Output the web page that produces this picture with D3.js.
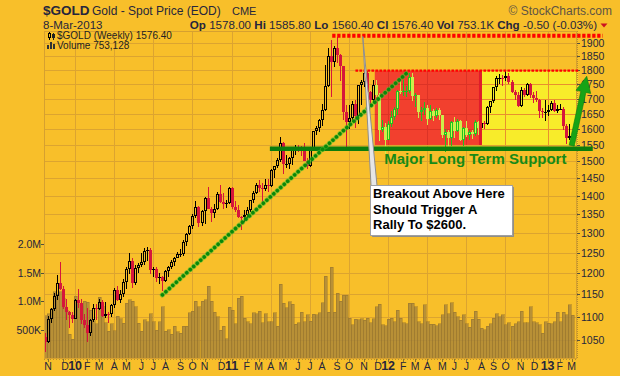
<!DOCTYPE html>
<html><head><meta charset="utf-8">
<script src="https://cdn.jsdelivr.net/npm/d3@7"></script>
<style>
body{margin:0;background:#f8bf2a;}
svg{display:block;font-family:"Liberation Sans",Arial,sans-serif;}
text{white-space:pre;}
</style>
</head><body>
<svg id="chart" width="620" height="376"></svg>
<script>
// ---------- DATA ----------
const firstWeek = "2009-10-30";   // weekly bars, Friday dated
const opens = [1057,1045,1095,1118,1146,1176,1162,1121,1110,1104,
1096,1138,1130,1092,1083,1064,1092,1119,1118,1132,
1102,1107,1106,1126,1161,1138,1150,1180,1209,1229,
1177,1212,1219,1228,1253,1257,1207,1210,1189,1190,
1181,1204,1215,1227,1237,1246,1247,1277,1297,1318,
1345,1369,1327,1358,1394,1365,1352,1363,1406,1384,
1378,1380,1421,1369,1360,1343,1341,1349,1361,1388,
1409,1430,1421,1419,1431,1429,1474,1486,1504,1556,
1491,1492,1510,1536,1542,1541,1538,1501,1486,1542,
1593,1602,1628,1663,1743,1852,1828,1883,1856,1813,
1656,1624,1636,1682,1642,1746,1756,1788,1724,1696,
1746,1713,1598,1606,1566,1616,1640,1665,1728,1725,
1725,1725,1775,1710,1712,1656,1662,1669,1632,1660,
1642,1663,1645,1581,1592,1573,1623,1593,1627,1565,
1604,1580,1590,1584,1622,1603,1620,1616,1671,1691,
1739,1771,1773,1772,1780,1757,1724,1712,1676,1731,
1714,1752,1712,1703,1696,1658,1656,1656,1662,1687,
1658,1667,1667,1609,1572,1578];
const highs = [1065,1101,1119,1154,1195,1227,1170,1140,1112,1110,
1140,1162,1140,1105,1120,1095,1128,1128,1140,1138,
1133,1110,1128,1165,1170,1160,1185,1215,1249,1237,
1219,1225,1250,1263,1265,1262,1215,1215,1200,1192,
1208,1218,1232,1240,1252,1259,1282,1301,1321,1350,
1387,1372,1362,1398,1424,1369,1378,1410,1432,1407,
1390,1424,1424,1387,1375,1345,1360,1370,1390,1415,
1437,1445,1436,1447,1447,1476,1487,1510,1575,1560,
1520,1512,1540,1550,1549,1547,1556,1510,1545,1595,
1610,1632,1681,1817,1881,1911,1890,1921,1860,1815,
1680,1680,1692,1695,1748,1765,1802,1795,1728,1764,
1763,1720,1630,1620,1626,1660,1672,1730,1764,1763,
1745,1789,1791,1720,1714,1672,1690,1680,1680,1665,
1670,1670,1645,1600,1597,1626,1640,1633,1630,1605,
1625,1597,1598,1628,1625,1624,1627,1675,1692,1741,
1778,1787,1781,1796,1790,1765,1730,1723,1740,1738,
1754,1755,1723,1725,1699,1670,1694,1680,1693,1697,
1678,1683,1671,1615,1615,1585.8];
const lows = [1026,1043,1087,1113,1137,1160,1117,1093,1075,1087,
1095,1120,1085,1075,1045,1058,1088,1092,1114,1100,
1098,1087,1100,1119,1135,1131,1145,1162,1197,1166,
1173,1200,1215,1220,1230,1198,1190,1178,1175,1157,
1178,1190,1210,1218,1236,1240,1242,1266,1295,1310,
1340,1315,1319,1325,1364,1330,1340,1362,1380,1365,
1366,1377,1364,1355,1340,1309,1330,1340,1356,1380,
1405,1410,1382,1415,1410,1425,1450,1480,1497,1462,
1480,1476,1490,1520,1527,1515,1500,1478,1483,1540,
1580,1591,1610,1660,1740,1705,1810,1825,1761,1630,
1535,1600,1628,1603,1615,1680,1740,1712,1680,1690,
1705,1563,1590,1523,1565,1605,1628,1645,1715,1710,
1705,1720,1693,1673,1635,1627,1645,1613,1629,1626,
1635,1630,1573,1527,1536,1546,1573,1590,1563,1547,
1576,1565,1568,1577,1582,1598,1599,1612,1652,1684,
1728,1750,1745,1760,1752,1718,1697,1672,1672,1705,
1710,1703,1684,1690,1635,1637,1626,1643,1660,1655,
1652,1661,1598,1554,1565,1560.4];
const closes = [1045,1095,1118,1146,1176,1162,1121,1110,1104,1096,
1138,1130,1092,1083,1064,1092,1119,1118,1132,1102,
1107,1106,1126,1161,1138,1150,1180,1209,1229,1177,
1212,1219,1228,1253,1257,1207,1210,1189,1190,1181,
1204,1215,1227,1237,1246,1247,1277,1297,1318,1345,
1369,1327,1358,1394,1365,1352,1363,1406,1384,1378,
1380,1421,1369,1360,1343,1341,1349,1361,1388,1409,
1430,1421,1419,1431,1429,1474,1486,1504,1556,1491,
1492,1510,1536,1542,1541,1538,1501,1486,1542,1593,
1602,1628,1663,1743,1852,1828,1883,1856,1813,1656,
1624,1636,1682,1642,1746,1756,1788,1724,1696,1746,
1713,1598,1606,1566,1616,1640,1665,1728,1725,1725,
1725,1775,1710,1712,1656,1662,1669,1632,1660,1642,
1663,1645,1581,1592,1573,1623,1593,1627,1565,1604,
1580,1590,1584,1622,1603,1620,1616,1671,1691,1739,
1771,1773,1772,1780,1757,1724,1712,1676,1731,1714,
1752,1712,1703,1696,1658,1656,1656,1662,1687,1658,
1667,1667,1609,1572,1577,1576.4];
const volumesK = [740,780,860,1160,1120,1160,1050,840,420,330,
1080,950,900,1000,980,840,650,600,1070,900,
620,470,600,480,730,690,610,960,1020,1000,
900,610,470,670,640,780,640,490,640,900,
470,500,420,560,460,430,560,560,790,820,
1000,900,1000,1020,1260,1000,800,720,490,560,
340,890,840,600,1050,1080,700,640,600,790,
780,820,620,780,640,640,790,560,1290,960,
880,990,940,590,620,800,640,760,643,770,
760,790,965,1433,800,1591,800,1140,1000,1100,
1100,700,580,680,670,690,660,700,620,690,
900,940,580,570,680,700,640,840,700,620,
600,960,960,900,640,600,930,640,590,590,
570,600,760,930,780,965,800,720,660,760,
600,540,680,820,680,520,500,560,600,700,
780,720,760,580,620,560,600,640,820,620,
620,900,640,620,580,430,640,610,600,640,
800,640,800,760,930,753];
const priceTicks = [1050,1100,1150,1200,1250,1300,1350,1400,1450,1500,1550,1600,1650,1700,1750,1800,1850,1900];
const volumeTicks = [500000,1000000,1500000,2000000];
const volumeTickLabels = ["500K","1.0M","1.5M","2.0M"];
const monthInitials = ["J","F","M","A","M","J","J","A","S","O","N","D"];

// annotation anchors (data units)
const parse = d3.timeParse("%Y-%m-%d");
const trendLine = [{date:"2010-07-30", price:1149},{date:"2012-02-19", price:1790}];
const supportLine = {from:"2011-04-06", to:"2013-04-26", price:1538};
const topResist = {from:"2011-08-29", to:"2013-05-19", price:1928};
const midResist = {from:"2011-10-22", to:"2013-03-23", price:1798};
const redZone = {from:"2011-12-06", to:"2012-08-09", top:1798, bottom:1550};
const yellowZone = {from:"2012-08-09", to:"2013-03-23", top:1798, bottom:1550};
const supportLabel = {date:"2011-12-28", price:1492, text:"Major Long Term Support"};
const greenArrow = {from:{date:"2013-03-08", price:1548}, to:{date:"2013-04-12", price:1778}};
const callout = {tip:{date:"2011-11-08", price:1925}, left:"2011-11-25", right:"2012-10-20", top:1431, bottom:1295,
  lines:["Breakout Above Here","Should Trigger A","Rally To $2600."]};

// ---------- SCALES ----------
const L = 44, R = 577, T = 31, B = 359;
const start = parse(firstWeek);
const n = closes.length;
const dates = d3.range(n).map(i => d3.timeDay.offset(start, 7*i));
const x = d3.scaleTime().domain([new Date(2009,9,27,16), new Date(2013,2,20,8)]).range([L, R]);
const y = d3.scaleLog().domain([1050,1900]).range([340,43]);
const vy = d3.scaleLinear().domain([0,2000000]).range([358,244]);
const X = d => x(typeof d === "string" ? parse(d) : d);

const svg = d3.select("#chart");
const ink = "#26263c";
svg.append("rect").attr("width",620).attr("height",376).attr("fill","#f8bf2a");

// ---------- HEADER ----------
svg.append("text").attr("x",43).attr("y",15).attr("font-size",13.5).attr("font-weight","bold").attr("fill",ink).text("$GOLD");
svg.append("text").attr("x",92).attr("y",15).attr("font-size",12).attr("fill",ink).text("Gold - Spot Price (EOD)");
svg.append("text").attr("x",232).attr("y",15).attr("font-size",11).attr("fill",ink).text("CME");
svg.append("text").attr("x",612).attr("y",15).attr("font-size",12).attr("text-anchor","end").attr("fill","#5e5444").text("© StockCharts.com");
svg.append("text").attr("x",43).attr("y",28.5).attr("font-size",11.5).attr("fill",ink).text("8-Mar-2013");
const quote = [["Op",1],[" 1578.00 ",0],["Hi",1],[" 1585.80 ",0],["Lo",1],[" 1560.40 ",0],["Cl",1],[" 1576.40 ",0],["Vol",1],[" 753.1K ",0],["Chg",1],[" -0.50 (-0.03%)",0]];
const qt = svg.append("text").attr("x",597).attr("y",28.5).attr("font-size",11.6).attr("text-anchor","end").attr("fill",ink);
quote.forEach(([s,b]) => qt.append("tspan").attr("font-weight", b ? "bold" : "normal").text(s));
svg.append("path").attr("d","M600.5,23.5 L607.5,23.5 L604,27.5 Z").attr("fill","#cc1122");

// ---------- ZONES ----------
const plot = svg.append("g");
const zoneRect = (z, fill) => plot.append("rect")
  .attr("x", X(z.from)).attr("y", y(z.top)).attr("width", X(z.to) - X(z.from)).attr("height", y(z.bottom) - y(z.top)).attr("fill", fill);
zoneRect(redZone, "#f2402e");
zoneRect(yellowZone, "#f8ec2a");

// ---------- GRID ----------
const defs = svg.append("defs");
const clip = (id, x0, y0, w, h) => defs.append("clipPath").attr("id", id).append("rect").attr("x",x0).attr("y",y0).attr("width",w).attr("height",h);
clip("cpPanel", L, T, R-L, B-T);
clip("cpRed", X(redZone.from), y(redZone.top), X(redZone.to)-X(redZone.from), y(redZone.bottom)-y(redZone.top));
clip("cpYel", X(yellowZone.from), y(yellowZone.top), X(yellowZone.to)-X(yellowZone.from), y(yellowZone.bottom)-y(yellowZone.top));

const monthMarks = [];
for (let i = 1; i < n; i++) {
  const m = d3.timeDay.offset(dates[i], -4), pm = d3.timeDay.offset(dates[i-1], -4);
  if (m.getMonth() !== pm.getMonth()) monthMarks.push({i, month:m.getMonth(), year:m.getFullYear()});
}
function grid(color, clipId) {
  const g = svg.append("g").attr("clip-path", `url(#${clipId})`).attr("stroke", color).attr("stroke-width",1).attr("shape-rendering","crispEdges");
  priceTicks.forEach(p => g.append("line").attr("x1",L).attr("x2",R).attr("y1",Math.round(y(p))+0.5).attr("y2",Math.round(y(p))+0.5));
  monthMarks.filter(d => d.month % 3 === 0).forEach(d => {
    const xx = Math.round(x(dates[d.i])) + 0.5;
    g.append("line").attr("x1",xx).attr("x2",xx).attr("y1",T).attr("y2",B);
  });
}
grid("#dca430", "cpPanel");
grid("#e8902e", "cpYel");
grid("#dc3326", "cpRed");

// ---------- VOLUME ----------
const vg = svg.append("g").attr("shape-rendering","crispEdges");
volumesK.forEach((v, i) => {
  const xr = Math.round(x(dates[i]));
  vg.append("rect").attr("x", xr-1).attr("width",3).attr("y", vy(v*1000)).attr("height", vy(0) - vy(v*1000))
    .attr("fill","#a8843a").attr("fill-opacity",0.8).attr("stroke","#8a6a28").attr("stroke-width",0.5).attr("stroke-opacity",0.8);
});

// ---------- CANDLES ----------
const cg = svg.append("g").attr("shape-rendering","crispEdges");
const rz0 = parse(redZone.from), rz1 = parse(redZone.to);
dates.forEach((d, i) => {
  const o = opens[i], h = highs[i], l = lows[i], c = closes[i];
  const upCol = i === 0 ? c >= o : c >= closes[i-1];
  const inRed = d >= rz0 && d <= rz1;
  let col, hollowFill;
  if (inRed) { col = upCol ? "#1fc41f" : "#cdee4a"; hollowFill = "#d2f24e"; }
  else { col = upCol ? "#000000" : "#d6163b"; hollowFill = "none"; }
  const xr = Math.round(x(d));
  const yt = Math.round(y(Math.max(o,c))), yb = Math.round(y(Math.min(o,c)));
  const yh = Math.round(y(h)), yl = Math.round(y(l));
  const hollow = c > o;
  cg.append("line").attr("x1",xr+0.5).attr("x2",xr+0.5).attr("y1",yh).attr("y2",yt).attr("stroke",col);
  cg.append("line").attr("x1",xr+0.5).attr("x2",xr+0.5).attr("y1",yb).attr("y2",yl).attr("stroke",col);
  if (hollow && yb - yt >= 2) {
    cg.append("rect").attr("x",xr-0.5).attr("y",yt+0.5).attr("width",2).attr("height",yb-yt-1)
      .attr("fill",hollowFill).attr("stroke",col);
  } else {
    cg.append("rect").attr("x",xr-1).attr("y",yt).attr("width",3).attr("height",Math.max(1,yb-yt)).attr("fill",col);
  }
});

// ---------- PANEL FRAME & AXES ----------
svg.append("rect").attr("x",L+0.5).attr("y",T+0.5).attr("width",R-L-1).attr("height",B-T-1)
  .attr("fill","none").attr("stroke","#d6a030").attr("shape-rendering","crispEdges");
svg.append("line").attr("x1",R+0.5).attr("x2",R+0.5).attr("y1",T).attr("y2",B).attr("stroke","#b8902c").attr("stroke-dasharray","1,1");
svg.append("line").attr("x1",L).attr("x2",R).attr("y1",B+0.5).attr("y2",B+0.5).attr("stroke","#b8902c").attr("stroke-dasharray","1,2");

const ax = svg.append("g").attr("fill",ink).attr("font-size",10.5);
priceTicks.forEach(p => {
  ax.append("line").attr("x1",R).attr("x2",R+3).attr("y1",Math.round(y(p))+0.5).attr("y2",Math.round(y(p))+0.5).attr("stroke","#55503c");
  ax.append("text").attr("x",R+4).attr("y",y(p)+4).text(p);
});
volumeTicks.forEach((v, k) => {
  ax.append("line").attr("x1",L-3).attr("x2",L).attr("y1",Math.round(vy(v))+0.5).attr("y2",Math.round(vy(v))+0.5).attr("stroke","#55503c");
  ax.append("text").attr("x",L-3).attr("y",vy(v)+4).attr("text-anchor","end").text(volumeTickLabels[k]);
});
monthMarks.forEach(d => {
  const xx = x(dates[d.i]);
  const isYear = d.month === 0;
  ax.append("line").attr("x1",Math.round(xx)+0.5).attr("x2",Math.round(xx)+0.5).attr("y1",B).attr("y2",B+3).attr("stroke","#8a7430");
  ax.append("text").attr("x", xx + (d.month === 11 ? 2 : 0)).attr("y",370).attr("text-anchor","middle")
    .attr("font-size", isYear ? 12.5 : 10.5).attr("font-weight", isYear ? "bold" : "normal")
    .text(isYear ? String(d.year).slice(2) : monthInitials[d.month]);
});

// ---------- LEGEND ----------
const lg = svg.append("g").attr("shape-rendering","crispEdges");
lg.append("line").attr("x1",49.5).attr("x2",49.5).attr("y1",32).attr("y2",40).attr("stroke","#000");
lg.append("rect").attr("x",48.5).attr("y",33.5).attr("width",2).attr("height",4).attr("fill","#f8bf2a").attr("stroke","#000");
lg.append("line").attr("x1",53.5).attr("x2",53.5).attr("y1",33).attr("y2",40).attr("stroke","#222");
lg.append("rect").attr("x",52).attr("y",34).attr("width",3).attr("height",4).attr("fill","#222");
[[47,45,2,4],[50,42,2,7],[53,44,2,5]].forEach(r => lg.append("rect").attr("x",r[0]).attr("y",r[1]).attr("width",r[2]).attr("height",r[3]).attr("fill","#333"));
svg.append("text").attr("x",57).attr("y",39).attr("font-size",10).attr("fill","#222").text("$GOLD (Weekly) 1576.40");
svg.append("text").attr("x",57).attr("y",49).attr("font-size",10).attr("fill","#222").text("Volume 753,128");

// ---------- ANNOTATIONS ----------
const an = svg.append("g");
an.append("rect").attr("x",X(redZone.to)-2).attr("y",y(redZone.top)).attr("width",3).attr("height",y(redZone.bottom)-y(redZone.top)).attr("fill","#e01c2c");
an.append("line").attr("x1",X(topResist.from)).attr("x2",X(topResist.to)).attr("y1",y(topResist.price)).attr("y2",y(topResist.price))
  .attr("stroke","#ff0000").attr("stroke-width",4).attr("stroke-dasharray","3.3,1.7");
an.append("line").attr("x1",X(midResist.from)).attr("x2",X(midResist.to)).attr("y1",y(midResist.price)).attr("y2",y(midResist.price))
  .attr("stroke","#ff0000").attr("stroke-width",2.2).attr("stroke-dasharray","2.7,1.3");
an.append("line").attr("x1",X(supportLine.from)).attr("x2",X(supportLine.to)).attr("y1",y(supportLine.price)).attr("y2",y(supportLine.price))
  .attr("stroke","#0d7d0d").attr("stroke-width",4.5);
an.append("text").attr("x",X(supportLabel.date)).attr("y",y(supportLabel.price)).attr("font-size",15).attr("font-weight","bold")
  .attr("fill","#168a16").text(supportLabel.text);
an.append("line").attr("x1",X(trendLine[0].date)).attr("y1",y(trendLine[0].price)).attr("x2",X(trendLine[1].date)).attr("y2",y(trendLine[1].price))
  .attr("stroke","#4bbf2a").attr("stroke-opacity",0.6).attr("stroke-width",5.2).attr("stroke-linecap","round").attr("stroke-dasharray","0.1,4.6");
an.append("line").attr("x1",X(trendLine[0].date)).attr("y1",y(trendLine[0].price)).attr("x2",X(trendLine[1].date)).attr("y2",y(trendLine[1].price))
  .attr("stroke","#0a880a").attr("stroke-width",3.6).attr("stroke-linecap","round").attr("stroke-dasharray","0.1,4.6");
{
  const tx = X(greenArrow.from.date), ty = y(greenArrow.from.price);
  const hx = X(greenArrow.to.date), hy = y(greenArrow.to.price);
  const ang = Math.atan2(hy-ty, hx-tx), len = Math.hypot(hx-tx, hy-ty);
  const hl = 16, hw = 7.5, sw = 2.6;
  const pts = [[0,-sw],[len-hl,-sw],[len-hl,-hw],[len,0],[len-hl,hw],[len-hl,sw],[0,sw]]
    .map(([u,v]) => [tx + u*Math.cos(ang) - v*Math.sin(ang), ty + u*Math.sin(ang) + v*Math.cos(ang)]);
  an.append("polygon").attr("points", pts.map(p => p.join(",")).join(" ")).attr("fill","#16a316").attr("stroke","#0c7f0c").attr("stroke-width",0.6);
}
{
  const bx0 = X(callout.left), bx1 = X(callout.right), by0 = y(callout.top), by1 = y(callout.bottom);
  const tipx = X(callout.tip.date), tipy = y(callout.tip.price);
  an.append("polygon").attr("points", `${tipx},${tipy} ${bx0+1},${by0+1} ${bx0+7},${by0+1}`)
    .attr("fill","#e6e6e6").attr("stroke","#8e8e8e").attr("stroke-width",1);
  an.append("rect").attr("x",bx0+2).attr("y",by0+2).attr("width",bx1-bx0).attr("height",by1-by0).attr("fill","#8c8c8c");
  an.append("rect").attr("x",Math.round(bx0)+0.5).attr("y",Math.round(by0)+0.5).attr("width",Math.round(bx1-bx0)).attr("height",Math.round(by1-by0))
    .attr("fill","#ffffff").attr("stroke","#a0a0a0");
  callout.lines.forEach((s, k) => an.append("text").attr("x",bx0+3).attr("y",by0+13.5+k*15.5)
    .attr("font-size",13).attr("font-weight","bold").attr("fill","#000").text(s));
}
</script>
</body></html>
